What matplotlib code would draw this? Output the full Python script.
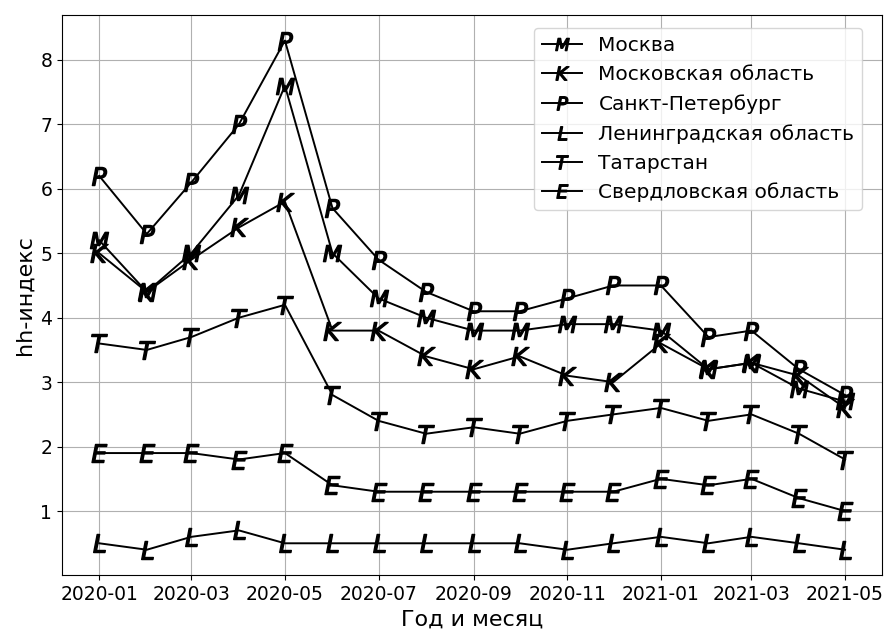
import matplotlib
matplotlib.use('Agg')
import matplotlib.pyplot as plt
import matplotlib.dates as mdates
import pandas as pd

months = pd.date_range('2020-01-01', '2021-05-01', freq='MS')

moscow = [5.2, 4.4, 5.0, 5.9, 7.6, 5.0, 4.3, 4.0, 3.8, 3.8, 3.9, 3.9, 3.8, 3.2, 3.3, 2.9, 2.7]
moscow_obl = [5.0, 4.4, 4.9, 5.4, 5.8, 3.8, 3.8, 3.4, 3.2, 3.4, 3.1, 3.0, 3.6, 3.2, 3.3, 3.1, 2.6]
spb = [6.2, 5.3, 6.1, 7.0, 8.3, 5.7, 4.9, 4.4, 4.1, 4.1, 4.3, 4.5, 4.5, 3.7, 3.8, 3.2, 2.8]
len_obl = [0.5, 0.4, 0.6, 0.7, 0.5, 0.5, 0.5, 0.5, 0.5, 0.5, 0.4, 0.5, 0.6, 0.5, 0.6, 0.5, 0.4]
tatarstan = [3.6, 3.5, 3.7, 4.0, 4.2, 2.8, 2.4, 2.2, 2.3, 2.2, 2.4, 2.5, 2.6, 2.4, 2.5, 2.2, 1.8]
sverdl = [1.9, 1.9, 1.9, 1.8, 1.9, 1.4, 1.3, 1.3, 1.3, 1.3, 1.3, 1.3, 1.5, 1.4, 1.5, 1.2, 1.0]

series = [
    (moscow, '$M$', 'Москва'),
    (moscow_obl, '$K$', 'Московская область'),
    (spb, '$P$', 'Санкт-Петербург'),
    (len_obl, '$L$', 'Ленинградская область'),
    (tatarstan, '$T$', 'Татарстан'),
    (sverdl, '$E$', 'Свердловская область'),
]

fig, ax = plt.subplots(figsize=(8.85, 6.3), dpi=100)
fig.subplots_adjust(left=0.07, right=0.997, top=0.976, bottom=0.087)

for values, marker, name in series:
    ax.plot(months, values, color='black', linewidth=1.4,
            marker=marker, markersize=13, label=name)

ax.xaxis.set_major_locator(mdates.MonthLocator(bymonth=[1, 3, 5, 7, 9, 11]))
ax.xaxis.set_major_formatter(mdates.DateFormatter('%Y-%m'))
ax.tick_params(labelsize=13.5)
ax.set_xlabel('Год и месяц', fontsize=16)
ax.set_ylabel('hh-индекс', fontsize=16)
ax.grid(True)
ax.legend(loc='upper right', bbox_to_anchor=(0.988, 0.995),
          fontsize=14.5, markerscale=0.75)

fig.savefig('out.png', dpi=100)
